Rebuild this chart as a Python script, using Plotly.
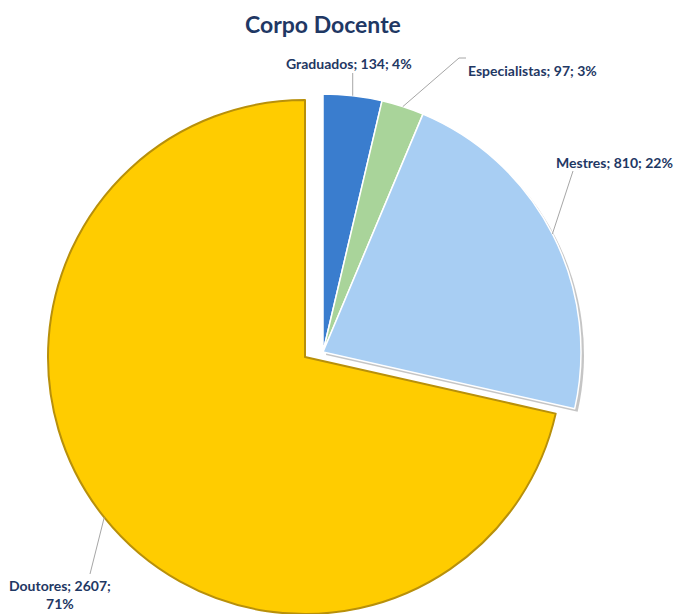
import math
import plotly.graph_objects as go

# ---- data ----
categories = ["Graduados", "Especialistas", "Mestres", "Doutores"]
values = [134, 97, 810, 2607]
title_text = "Corpo Docente"

# ---- style ----
OFF = 8                      # page body margin of the browser
W, H = 682 - OFF, 614 - OFF  # figure size so that it fills the window
slice_colors = ["#3A7DCE", "#A9D49A", "#A8CEF3", "#FFCC00"]
navy = "#1F3864"
clear = "rgba(0,0,0,0)"
FONT = "Lato"

total = sum(values)
pcts = [round(v / total * 100) for v in values]
label_texts = [f"{c}; {v}; {p}%" for c, v, p in zip(categories, values, pcts)]
label_texts[3] = f"{categories[3]}; {values[3]};<br>{pcts[3]}%"

# pie geometry in screen pixels: main pie (small slices) and exploded Doutores slice
cA, rA = (323, 352), 258
cB, rB = (305, 357), 257
shadow_d = 3


def fig_xy(x, y):
    """screen pixel -> figure pixel"""
    return x - OFF, y - OFF


def dom(c, r):
    x, y = fig_xy(*c)
    x0, x1 = (x - r) / W, (x + r) / W
    y0, y1 = 1 - (y + r) / H, 1 - (y - r) / H
    return dict(x=[max(0, x0), min(1, x1)], y=[max(0, y0), min(1, y1)])


def px2paper(x, y):
    fx, fy = fig_xy(x, y)
    return fx / W, 1 - fy / H


def tip(i, c, r):
    start = sum(values[:i])
    mid = (start + values[i] / 2) / total * 2 * math.pi
    return c[0] + r * math.sin(mid), c[1] - r * math.cos(mid)


fig = go.Figure()
# soft shadow behind the small slices
fig.add_trace(go.Pie(
    labels=categories, values=values, sort=False, direction="clockwise",
    rotation=0, textinfo="none", hoverinfo="skip",
    domain=dom((cA[0] + shadow_d, cA[1] + shadow_d), rA), showlegend=False,
    marker=dict(colors=["rgba(90,90,90,0.35)"] * 3 + [clear], line=dict(width=0)),
))
fig.add_trace(go.Pie(
    labels=categories, values=values, sort=False, direction="clockwise",
    rotation=0, textinfo="none", hoverinfo="label+value+percent",
    domain=dom(cA, rA), showlegend=False,
    marker=dict(colors=slice_colors[:3] + [clear],
                line=dict(color=["#FFFFFF", "#FFFFFF", "#FFFFFF", clear],
                          width=[1.5, 1.5, 1.5, 0])),
))
fig.add_trace(go.Pie(
    labels=categories, values=values, sort=False, direction="clockwise",
    rotation=0, textinfo="none", hoverinfo="label+value+percent",
    domain=dom(cB, rB), showlegend=False,
    marker=dict(colors=[clear, clear, clear, slice_colors[3]],
                line=dict(color=[clear, clear, clear, "#B8900A"],
                          width=[0, 0, 0, 2])),
))

# label positions (screen pixels) and leader line end points near each label
label_pos = [(349, 63, "center"), (466, 70, "left"), (554, 162, "left"), (60, 594, "center")]
line_ends = [[(None, 73)], [(459, 58), (466, 58)], [(573, 171)], [(90, 574)]]
centers = [cA, cA, cA, cB]
radii = [rA, rA, rA, rB]

shapes = []
for i in range(4):
    tx, ty = tip(i, centers[i], radii[i])
    pts = [(tx, ty)]
    for ex, ey in line_ends[i]:
        pts.append((tx if ex is None else ex, ey))
    for (x0, y0), (x1, y1) in zip(pts[:-1], pts[1:]):
        a0, b0 = px2paper(x0, y0)
        a1, b1 = px2paper(x1, y1)
        shapes.append(dict(type="line", xref="paper", yref="paper",
                           x0=a0, y0=b0, x1=a1, y1=b1,
                           line=dict(color="#A6A6A6", width=1)))

annotations = []
for i in range(4):
    lx, ly, anc = label_pos[i]
    ax_, ay_ = px2paper(lx, ly)
    annotations.append(dict(
        x=ax_, y=ay_, xref="paper", yref="paper", xanchor=anc, yanchor="middle",
        text=f"<b>{label_texts[i]}</b>", showarrow=False, align="center",
        font=dict(family=FONT, size=14, color=navy)))

tx_, ty_ = px2paper(323, 24)
annotations.append(dict(x=tx_, y=ty_, xref="paper", yref="paper", xanchor="center",
                        yanchor="middle", text=f"<b>{title_text}</b>", showarrow=False,
                        font=dict(family=FONT, size=23, color=navy)))

fig.update_layout(
    width=W, height=H, margin=dict(l=0, r=0, t=0, b=0),
    paper_bgcolor="white", plot_bgcolor="white",
    shapes=shapes, annotations=annotations,
)

fig.write_html("out.html")
